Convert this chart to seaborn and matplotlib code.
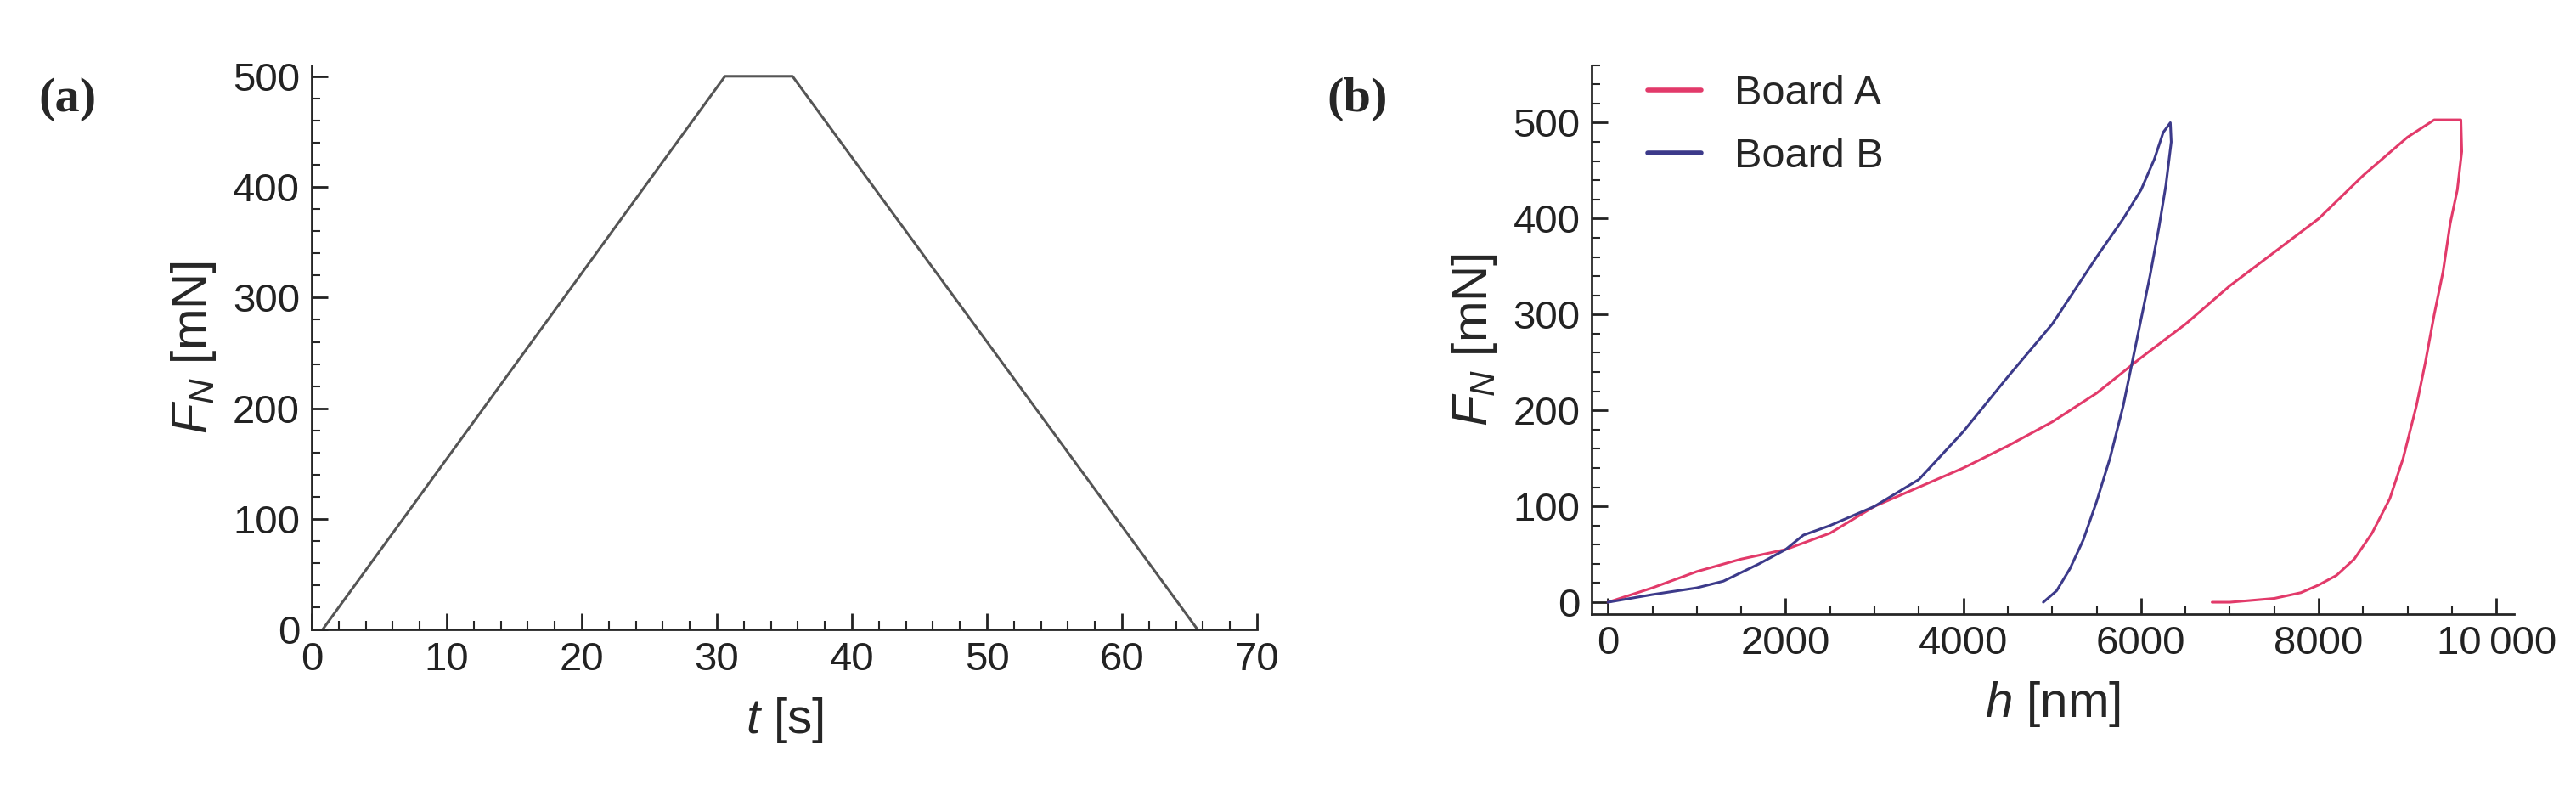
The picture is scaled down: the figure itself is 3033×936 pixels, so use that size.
import numpy as np
import matplotlib.pyplot as plt
import seaborn as sns
import pandas as pd
from matplotlib.ticker import MultipleLocator

sns.set_style("ticks")
plt.rcParams['font.family'] = ['Liberation Sans', 'DejaVu Sans']
plt.rcParams['mathtext.fontset'] = 'custom'
plt.rcParams['mathtext.it'] = 'Liberation Sans:italic'
plt.rcParams['mathtext.rm'] = 'Liberation Sans'

# panel (a): load protocol
t_s = [0.8, 30.6, 35.6, 65.6]
force_a = [0, 500, 500, 0]

# panel (b): load-depth curves
h_board_a = [0, 500, 1000, 1500, 2000, 2500, 3000, 3500, 4000, 4500, 5000, 5500, 6000, 6500,
             7000, 7500, 8000, 8500, 9000, 9300, 9600, 9610, 9560, 9480, 9400, 9300, 9200,
             9100, 8950, 8800, 8600, 8400, 8200, 8000, 7800, 7500, 7000, 6800]
f_board_a = [0, 15, 32, 45, 55, 72, 100, 120, 140, 163, 188, 218, 255, 290,
             330, 365, 400, 445, 485, 503, 503, 470, 430, 395, 345, 300, 250,
             205, 150, 108, 72, 45, 28, 18, 10, 4, 0, 0]
h_board_b = [0, 500, 1000, 1300, 1700, 2000, 2200, 2500, 3000, 3500, 4000, 4500, 5000, 5500,
             5800, 6000, 6150, 6250, 6330, 6340, 6280, 6200, 6100, 6000, 5900, 5800, 5650,
             5500, 5350, 5200, 5050, 4900]
f_board_b = [0, 8, 15, 22, 40, 55, 70, 80, 100, 128, 178, 235, 290, 360,
             400, 430, 462, 490, 500, 480, 435, 390, 340, 295, 250, 205, 150,
             105, 65, 35, 12, 0]

df_a = pd.DataFrame({"t": t_s, "F": force_a})
df_b = pd.concat([
    pd.DataFrame({"h": h_board_a, "F": f_board_a, "board": "Board A"}),
    pd.DataFrame({"h": h_board_b, "F": f_board_b, "board": "Board B"}),
])

fig = plt.figure(figsize=(30.33, 9.36), dpi=100)
ax1 = fig.add_axes([0.121, 0.208, 0.367, 0.71])
ax2 = fig.add_axes([0.618, 0.228, 0.358, 0.69])

sns.lineplot(data=df_a, x="t", y="F", ax=ax1, color="#555555", lw=2.2, sort=False)
sns.lineplot(data=df_b, x="h", y="F", hue="board", ax=ax2, sort=False, estimator=None,
             palette={"Board A": "#e23a6a", "Board B": "#3c3a8a"}, lw=2.2)

ax1.set_xlim(0, 70)
ax1.set_ylim(0, 510)
ax1.xaxis.set_major_locator(MultipleLocator(10))
ax1.xaxis.set_minor_locator(MultipleLocator(2))
ax1.yaxis.set_major_locator(MultipleLocator(100))
ax1.yaxis.set_minor_locator(MultipleLocator(20))

ax2.set_xlim(-180, 10200)
ax2.set_ylim(-12, 560)
ax2.xaxis.set_major_locator(MultipleLocator(2000))
ax2.xaxis.set_minor_locator(MultipleLocator(500))
ax2.yaxis.set_major_locator(MultipleLocator(100))
ax2.yaxis.set_minor_locator(MultipleLocator(20))
ax2.set_xticks([0, 2000, 4000, 6000, 8000, 10000])
ax2.set_xticklabels(["0", "2000", "4000", "6000", "8000", "10\u2009000"])

for ax in (ax1, ax2):
    sns.despine(ax=ax)
    ax.spines["left"].set_linewidth(2)
    ax.spines["bottom"].set_linewidth(2)
    ax.tick_params(which="major", direction="in", length=14, width=2, labelsize=34, colors="#222222", pad=10)
    ax.tick_params(which="minor", direction="in", length=7, width=1.5)
    ax.set_ylabel(r"$F_N$ [mN]", fontsize=42, labelpad=12)

ax1.set_xlabel(r"$t$ [s]", fontsize=42, labelpad=14)
ax2.set_xlabel(r"$h$ [nm]", fontsize=42, labelpad=14)

leg = ax2.legend(loc="upper left", frameon=False, fontsize=35, handlelength=1.3,
                 bbox_to_anchor=(0.02, 1.05), labelspacing=0.6)
for line in leg.get_lines():
    line.set_linewidth(4)

fig.text(0.015, 0.86, "(a)", fontsize=42, fontweight="bold", family="Liberation Serif")
fig.text(0.515, 0.86, "(b)", fontsize=42, fontweight="bold", family="Liberation Serif")

fig.savefig("out.png", dpi=100)
